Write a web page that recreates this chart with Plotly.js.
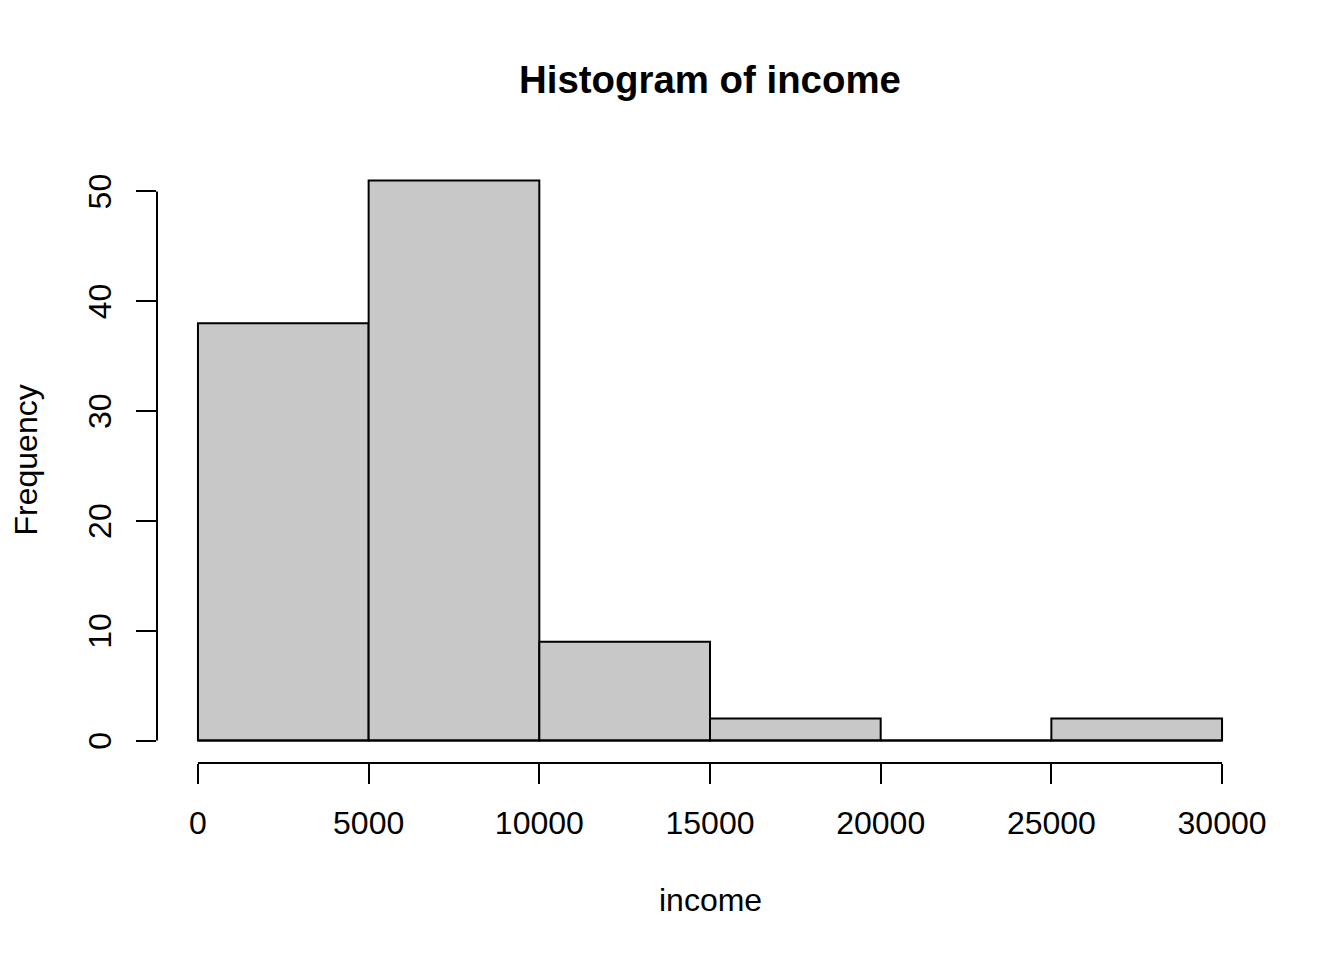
<!DOCTYPE html>
<html>
<head>
<meta charset="utf-8">
<script src="https://cdn.plot.ly/plotly-3.0.1.min.js"></script>
<style>html,body{margin:0;padding:0;background:#fff;}#chart{width:1344px;height:960px;}</style>
</head>
<body>
<div id="chart"></div>
<script>
// Histogram data (bin edges and counts)
var binEdges = [0, 5000, 10000, 15000, 20000, 25000, 30000];
var counts = [38, 51, 9, 2, 0, 2];
var xTickVals = [0, 5000, 10000, 15000, 20000, 25000, 30000];
var xTickText = ["0", "5000", "10000", "15000", "20000", "25000", "30000"];
var yTickVals = [0, 10, 20, 30, 40, 50];
var yTickText = ["0", "10", "20", "30", "40", "50"];

var centers = [], widths = [];
for (var i = 0; i < counts.length; i++) {
  centers.push((binEdges[i] + binEdges[i + 1]) / 2);
  widths.push(binEdges[i + 1] - binEdges[i]);
}

var xmin = binEdges[0], xmax = binEdges[binEdges.length - 1];
var ymaxData = Math.max.apply(null, counts);
var xpad = (xmax - xmin) * 0.04;
var ypad = (ymaxData - 0) * 0.04;

var font = "Liberation Sans, Arial, Helvetica, sans-serif";
var fs = 32;

var bars = {
  type: 'bar',
  x: centers,
  y: counts,
  width: widths,
  marker: {color: '#C8C8C8', line: {color: '#000000', width: 2}},
  hoverinfo: 'x+y',
  showlegend: false
};
// baseline (R draws zero-height bins as a line at 0)
var baseline = {
  type: 'scatter', mode: 'lines',
  x: [xmin, xmax], y: [0, 0],
  line: {color: '#000000', width: 2},
  hoverinfo: 'skip', showlegend: false
};

var layout = {
  width: 1344, height: 960,
  paper_bgcolor: '#ffffff', plot_bgcolor: '#ffffff',
  margin: {l: 157, r: 81, t: 158, b: 197, pad: 0},
  bargap: 0,
  font: {family: font, size: fs, color: '#000000'},
  title: {
    text: '<b>Histogram of income</b>',
    font: {family: font, size: 38.4, color: '#000000'},
    x: 0.5, xref: 'paper', xanchor: 'center',
    y: 1 - 80 / 960, yref: 'container', yanchor: 'middle'
  },
  xaxis: {
    range: [xmin - xpad, xmax + xpad],
    showgrid: false, zeroline: false, showline: false,
    tickmode: 'array', tickvals: xTickVals, ticktext: xTickText,
    ticks: 'outside', ticklen: 20, tickwidth: 2, tickcolor: '#000',
    ticklabelstandoff: 12,
    tickfont: {family: font, size: fs, color: '#000'},
    fixedrange: true
  },
  yaxis: {
    range: [0 - ypad, ymaxData + ypad],
    showgrid: false, zeroline: false, showline: false,
    tickmode: 'array', tickvals: yTickVals, ticktext: yTickText,
    ticks: 'outside', ticklen: 20, tickwidth: 2, tickcolor: '#000',
    tickangle: -90, ticklabelstandoff: 12, ticklabelshift: 5,
    tickfont: {family: font, size: fs, color: '#000'},
    fixedrange: true
  },
  shapes: [
    {type: 'line', xref: 'x', yref: 'paper', x0: xTickVals[0], x1: xTickVals[xTickVals.length - 1], y0: 0, y1: 0,
     line: {color: '#000', width: 2}},
    {type: 'line', xref: 'paper', yref: 'y', x0: 0, x1: 0, y0: yTickVals[0], y1: yTickVals[yTickVals.length - 1],
     line: {color: '#000', width: 2}}
  ],
  annotations: [
    {text: 'income', xref: 'paper', yref: 'paper', x: 0.5, y: 0, yshift: -137,
     xanchor: 'center', yanchor: 'middle', showarrow: false,
     font: {family: font, size: fs, color: '#000'}},
    {text: 'Frequency', xref: 'paper', yref: 'paper', x: 0, y: 0.5, xshift: -132,
     xanchor: 'center', yanchor: 'middle', textangle: -90, showarrow: false,
     font: {family: font, size: fs, color: '#000'}}
  ]
};

Plotly.newPlot('chart', [bars, baseline], layout, {displayModeBar: false, staticPlot: true});
</script>
</body>
</html>
